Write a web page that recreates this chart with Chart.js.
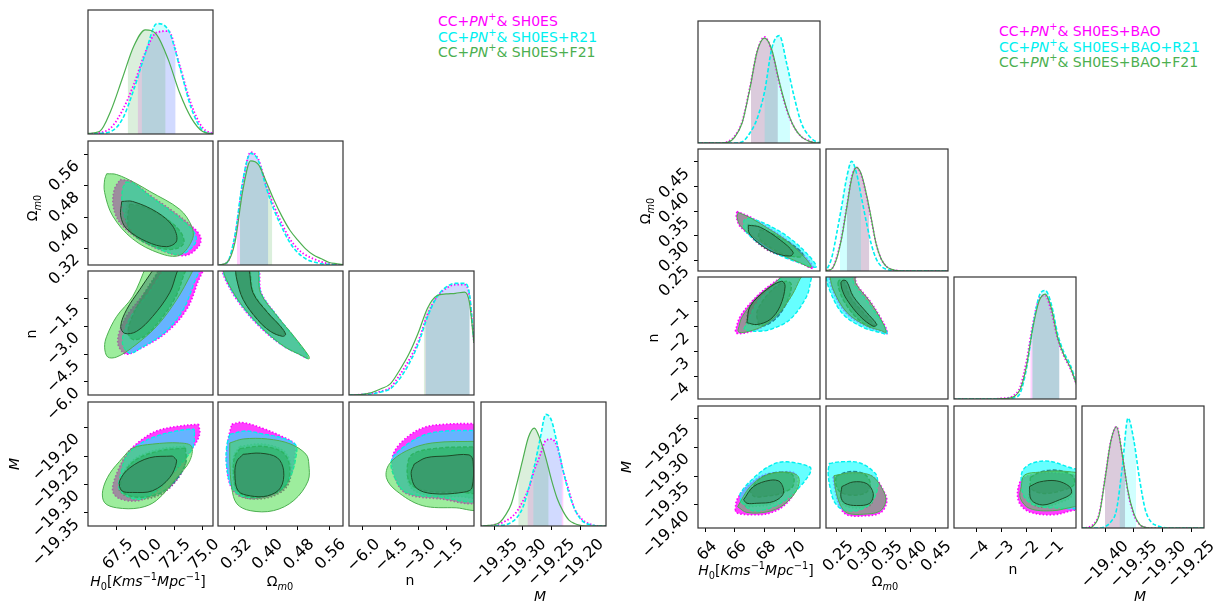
<!DOCTYPE html>
<html>
<head>
<meta charset="utf-8">
<script src="https://cdn.jsdelivr.net/npm/chart.js@4.4.1/dist/chart.umd.min.js"></script>
<style>
  body { margin: 0; background: #fff; width: 1222px; height: 603px; overflow: hidden; position: relative; font-family: 'DejaVu Sans', sans-serif; }
  canvas { position: absolute; }
  .lab { position: absolute; font-size: 14px; white-space: nowrap; line-height: 1; transform: translate(-50%, -50%); z-index: 5; }
  .rot { transform: translate(-50%, -50%) rotate(-90deg); }
  .leg { position: absolute; font-size: 14px; white-space: nowrap; line-height: 15.5px; z-index: 5; }
  sup, sub { font-size: 70%; line-height: 0; }
</style>
</head>
<body>
<div class="leg" style="left:438px;top:14px">
  <div style="color:#ff00ff">CC+<i>PN</i><sup>+</sup>&amp; SH0ES</div>
  <div style="color:#00f0f0">CC+<i>PN</i><sup>+</sup>&amp; SH0ES+R21</div>
  <div style="color:#4caf50">CC+<i>PN</i><sup>+</sup>&amp; SH0ES+F21</div>
</div>
<div class="leg" style="left:999px;top:24px">
  <div style="color:#ff00ff">CC+<i>PN</i><sup>+</sup>&amp; SH0ES+BAO</div>
  <div style="color:#00f0f0">CC+<i>PN</i><sup>+</sup>&amp; SH0ES+BAO+R21</div>
  <div style="color:#4caf50">CC+<i>PN</i><sup>+</sup>&amp; SH0ES+BAO+F21</div>
</div>

<div class="lab" style="left:148px;top:581px"><i>H</i><sub>0</sub>[<i>Kms</i><sup>−1</sup><i>Mpc</i><sup>−1</sup>]</div>
<div class="lab" style="left:280px;top:581px">Ω<sub><i>m</i>0</sub></div>
<div class="lab" style="left:410px;top:580px">n</div>
<div class="lab" style="left:540px;top:596px"><i>M</i></div>
<div class="lab rot" style="left:32px;top:208px">Ω<sub><i>m</i>0</sub></div>
<div class="lab rot" style="left:31px;top:334px">n</div>
<div class="lab rot" style="left:14px;top:464px"><i>M</i></div>

<div class="lab" style="left:756px;top:570px"><i>H</i><sub>0</sub>[<i>Kms</i><sup>−1</sup><i>Mpc</i><sup>−1</sup>]</div>
<div class="lab" style="left:885px;top:581px">Ω<sub><i>m</i>0</sub></div>
<div class="lab" style="left:1013px;top:569px">n</div>
<div class="lab" style="left:1140px;top:596px"><i>M</i></div>
<div class="lab rot" style="left:645px;top:211px">Ω<sub><i>m</i>0</sub></div>
<div class="lab rot" style="left:653px;top:338px">n</div>
<div class="lab rot" style="left:626px;top:467px"><i>M</i></div>

<script>
// ---------- left triangle: CC+PN+ & SH0ES (+R21, +F21) ----------
const L_h0Ticks = [67.5, 70, 72.5, 75];
const L_h0Labels = ['67.5', '70.0', '72.5', '75.0'];
const L_omTicks = [0.32, 0.40, 0.48, 0.56];
const L_omLabels = ['0.32', '0.40', '0.48', '0.56'];
const L_nTicks = [-6, -4.5, -3, -1.5];
const L_nLabels = ['−6.0', '−4.5', '−3.0', '−1.5'];
const L_mTicks = [-19.35, -19.30, -19.25, -19.20];
const L_mLabels = ['−19.35', '−19.30', '−19.25', '−19.20'];

// marginals (magenta, cyan, green)
const L_h0Grid = [65, 66, 67, 68, 69, 70, 71, 72, 73, 74, 75, 76];
const L_h0Mag = [0, 0.01, 0.05, 0.19, 0.40, 0.66, 0.82, 0.83, 0.55, 0.24, 0.05, 0];
const L_h0Cyan = [0, 0.005, 0.02, 0.12, 0.36, 0.65, 0.89, 0.84, 0.54, 0.21, 0.03, 0];
const L_h0Green = [0.005, 0.02, 0.19, 0.45, 0.71, 0.84, 0.80, 0.60, 0.33, 0.13, 0.02, 0];
const L_h0Bands = [[69.33, 72.64], [69.68, 72.64], [68.46, 71.77]];

const L_omGrid = [0.28, 0.30, 0.32, 0.34, 0.36, 0.38, 0.40, 0.42, 0.44, 0.46, 0.48, 0.50, 0.52, 0.54, 0.56, 0.58, 0.60];
const L_omMag = [0, 0.02, 0.22, 0.66, 0.91, 0.85, 0.64, 0.47, 0.33, 0.21, 0.13, 0.08, 0.05, 0.025, 0.01, 0.003, 0];
const L_omCyan = [0, 0.02, 0.24, 0.68, 0.90, 0.84, 0.62, 0.44, 0.30, 0.18, 0.10, 0.05, 0.025, 0.01, 0.005, 0, 0];
const L_omGreen = [0, 0.02, 0.18, 0.60, 0.84, 0.81, 0.67, 0.52, 0.39, 0.28, 0.20, 0.13, 0.08, 0.05, 0.02, 0.01, 0];
const L_omBands = [[0.325, 0.405], [0.333, 0.405], [0.333, 0.415]];

const L_nGrid = [-7, -6.5, -6, -5.5, -5, -4.5, -4, -3.5, -3, -2.5, -2, -1.5, -1, -0.5, -0.25, 0];
const L_nMag = [0, 0, 0.005, 0.015, 0.03, 0.06, 0.16, 0.28, 0.43, 0.65, 0.79, 0.86, 0.89, 0.89, 0.80, 0.42];
const L_nCyan = [0, 0, 0.003, 0.01, 0.025, 0.05, 0.13, 0.25, 0.41, 0.63, 0.79, 0.87, 0.90, 0.90, 0.82, 0.43];
const L_nGreen = [0, 0, 0.005, 0.02, 0.05, 0.09, 0.20, 0.33, 0.50, 0.70, 0.80, 0.815, 0.82, 0.83, 0.75, 0.42];
const L_nBands = [[-2.62, -0.23], [-2.6, -0.23], [-2.7, -0.23]];

const L_mGrid = [-19.38, -19.37, -19.36, -19.35, -19.34, -19.33, -19.32, -19.31, -19.30, -19.29, -19.28, -19.27,
  -19.26, -19.25, -19.24, -19.23, -19.22, -19.21, -19.20, -19.19, -19.18, -19.17, -19.16, -19.15];
const L_mMag = [0, 0, 0, 0.01, 0.02, 0.04, 0.07, 0.12, 0.20, 0.30, 0.45, 0.57, 0.69, 0.70, 0.64, 0.45, 0.29, 0.14, 0.07, 0.03, 0.01, 0, 0, 0];
const L_mCyan = [0, 0, 0, 0, 0.005, 0.01, 0.03, 0.07, 0.15, 0.30, 0.48, 0.70, 0.90, 0.85, 0.66, 0.45, 0.27, 0.14, 0.06, 0.02, 0.01, 0, 0, 0];
const L_mGreen = [0, 0, 0.005, 0.01, 0.03, 0.09, 0.18, 0.35, 0.54, 0.72, 0.79, 0.70, 0.55, 0.37, 0.22, 0.12, 0.05, 0.02, 0.005, 0, 0, 0, 0, 0];
const L_mBands = [[-19.292, -19.229], [-19.282, -19.232], [-19.308, -19.255]];

// 2D contours, [x, y] in data units (95% and 68%)
const L_h0om_m95 = [[67.8, 0.496], [68.8, 0.491], [70.4, 0.456], [72.4, 0.415], [74.1, 0.375], [74.8, 0.35], [74.7, 0.327], [73.6, 0.302], [71.9, 0.309], [69.5, 0.342], [67.8, 0.385], [67.2, 0.428], [67.3, 0.471]];
const L_h0om_m68 = [[68.46, 0.438], [69.5, 0.433], [71.25, 0.408], [72.81, 0.37], [73.25, 0.337], [72.29, 0.319], [70.37, 0.332], [68.63, 0.365], [68.28, 0.4]];
const L_h0om_c95 = [[68.3, 0.49], [69.0, 0.486], [70.4, 0.453], [72.3, 0.413], [73.8, 0.376], [74.4, 0.352], [74.3, 0.33], [73.2, 0.305], [71.8, 0.311], [69.7, 0.343], [68.5, 0.38], [68.0, 0.43], [68.0, 0.47]];
const L_h0om_c68 = [[68.63, 0.433], [69.68, 0.428], [71.42, 0.403], [72.99, 0.365], [73.34, 0.332], [72.29, 0.317], [70.37, 0.329], [68.72, 0.362], [68.46, 0.395]];
const L_h0om_g95 = [[66.63, 0.511], [67.5, 0.509], [69.07, 0.488], [70.37, 0.466], [72.99, 0.42], [74.03, 0.377], [74.12, 0.344], [72.99, 0.302], [71.25, 0.307], [68.89, 0.344], [67.15, 0.403], [66.45, 0.463], [66.45, 0.496]];
const L_h0om_g68 = [[67.94, 0.44], [68.89, 0.44], [70.98, 0.413], [72.38, 0.377], [72.73, 0.339], [71.86, 0.324], [70.11, 0.337], [68.37, 0.37], [67.85, 0.403]];

const L_h0n_m95 = [[71.68, 0.32], [74.99, 0.32], [74.55, -0.64], [73.6, -2.09], [71.86, -3.32], [69.5, -4.23], [68.28, -4.5], [67.59, -3.86], [68.2, -2.62], [69.94, -1.18]];
const L_h0n_m68 = [[71.42, 0.32], [73.51, 0.32], [73.25, -0.21], [72.55, -1.39], [71.25, -2.62], [69.94, -3.48], [68.89, -3.7], [68.46, -3.32], [68.89, -2.36], [69.94, -1.18], [71.07, -0.05]];
const L_h0n_c95 = [[71.9, 0.32], [74.7, 0.32], [74.25, -0.64], [73.3, -2.09], [71.7, -3.32], [69.45, -4.23], [68.6, -4.45], [68.0, -3.86], [68.6, -2.62], [70.3, -1.18]];
const L_h0n_c68 = [[71.5, 0.32], [73.6, 0.32], [73.35, -0.21], [72.65, -1.39], [71.35, -2.62], [70.0, -3.5], [68.95, -3.72], [68.5, -3.32], [68.95, -2.36], [70.0, -1.18], [71.15, -0.05]];
const L_h0n_g95 = [[70.11, 0.32], [74.29, 0.32], [74.03, -0.11], [72.73, -1.55], [70.98, -3.0], [68.89, -4.13], [67.5, -4.66], [66.72, -4.66], [66.45, -4.13], [66.63, -3.54], [67.5, -2.46], [68.89, -1.39]];
const L_h0n_g68 = [[70.98, 0.32], [72.99, 0.32], [72.73, -0.11], [72.12, -1.18], [70.64, -2.46], [69.24, -3.27], [68.2, -3.38], [67.85, -3.0], [68.37, -2.09], [69.5, -1.02], [70.55, -0.05]];

const L_h0m_m95 = [[74.64, -19.194], [74.73, -19.212], [74.12, -19.236], [72.38, -19.281], [70.98, -19.311], [69.5, -19.328], [67.76, -19.325], [67.15, -19.311], [67.5, -19.281], [68.37, -19.247], [69.5, -19.224], [70.98, -19.206], [72.73, -19.198]];
const L_h0m_m68 = [[73.42, -19.233], [71.25, -19.238], [69.07, -19.255], [67.94, -19.285], [67.76, -19.311], [69.07, -19.325], [71.07, -19.32], [72.55, -19.297], [73.51, -19.262]];
const L_h0m_c95 = [[74.29, -19.208], [74.12, -19.236], [72.38, -19.281], [70.98, -19.311], [69.5, -19.326], [68.2, -19.318], [67.7, -19.305], [67.9, -19.278], [68.37, -19.25], [69.5, -19.229], [70.98, -19.215], [72.73, -19.206], [74.2, -19.203]];
const L_h0m_c68 = [[73.5, -19.236], [71.25, -19.241], [69.07, -19.258], [68.0, -19.287], [67.94, -19.311], [69.15, -19.322], [71.07, -19.317], [72.55, -19.295], [73.51, -19.263]];
const L_h0m_g95 = [[68.02, -19.253], [68.89, -19.236], [70.64, -19.229], [72.99, -19.227], [74.03, -19.233], [73.86, -19.259], [72.73, -19.288], [70.98, -19.328], [69.5, -19.341], [67.5, -19.341], [66.45, -19.332], [66.28, -19.311], [66.89, -19.281]];
const L_h0m_g68 = [[72.38, -19.25], [70.37, -19.253], [68.63, -19.271], [67.76, -19.294], [67.94, -19.311], [68.89, -19.314], [70.64, -19.311], [72.12, -19.288], [72.73, -19.259]];

const L_omn_m95 = [[0.283, 0.32], [0.374, 0.32], [0.387, -1.18], [0.428, -2.46], [0.468, -3.54], [0.503, -4.55], [0.502, -4.7], [0.488, -4.55], [0.44, -4.02], [0.382, -3.0], [0.33, -1.71], [0.296, -0.48]];
const L_omn_m68 = [[0.322, 0.32], [0.353, 0.32], [0.368, -1.18], [0.404, -2.25], [0.436, -3.0], [0.447, -3.4], [0.44, -3.5], [0.41, -3.25], [0.378, -2.62], [0.343, -1.55], [0.327, -0.48]];
const L_omn_c95 = [[0.285, 0.32], [0.373, 0.32], [0.386, -1.18], [0.428, -2.46], [0.469, -3.54], [0.505, -4.58], [0.504, -4.73], [0.49, -4.58], [0.442, -4.04], [0.384, -3.0], [0.332, -1.71], [0.298, -0.48]];
const L_omn_c68 = [[0.321, 0.32], [0.352, 0.32], [0.367, -1.18], [0.403, -2.25], [0.435, -3.0], [0.446, -3.38], [0.439, -3.48], [0.409, -3.24], [0.377, -2.62], [0.342, -1.55], [0.326, -0.48]];
const L_omn_g95 = [[0.286, 0.32], [0.372, 0.32], [0.385, -1.18], [0.428, -2.46], [0.47, -3.54], [0.508, -4.61], [0.508, -4.77], [0.493, -4.61], [0.444, -4.07], [0.385, -3.0], [0.333, -1.71], [0.299, -0.48]];
const L_omn_g68 = [[0.32, 0.32], [0.351, 0.32], [0.366, -1.18], [0.403, -2.25], [0.436, -3.0], [0.449, -3.43], [0.441, -3.54], [0.41, -3.27], [0.377, -2.62], [0.341, -1.55], [0.325, -0.48]];

const L_omm_m95 = [[0.312, -19.194], [0.338, -19.191], [0.39, -19.201], [0.444, -19.217], [0.472, -19.229], [0.472, -19.25], [0.462, -19.285], [0.436, -19.311], [0.39, -19.323], [0.341, -19.323], [0.312, -19.307], [0.299, -19.267], [0.302, -19.224]];
const L_omm_m68 = [[0.333, -19.233], [0.39, -19.229], [0.444, -19.241], [0.462, -19.267], [0.454, -19.302], [0.415, -19.321], [0.359, -19.325], [0.325, -19.314], [0.315, -19.285], [0.317, -19.25]];
const L_omm_c95 = [[0.307, -19.212], [0.346, -19.206], [0.39, -19.211], [0.444, -19.219], [0.475, -19.231], [0.475, -19.252], [0.462, -19.285], [0.436, -19.309], [0.39, -19.321], [0.341, -19.321], [0.312, -19.305], [0.299, -19.267], [0.299, -19.233]];
const L_omm_c68 = [[0.333, -19.237], [0.39, -19.233], [0.442, -19.244], [0.459, -19.268], [0.451, -19.3], [0.413, -19.318], [0.36, -19.322], [0.327, -19.311], [0.317, -19.284], [0.319, -19.252]];
const L_omm_g95 = [[0.307, -19.227], [0.341, -19.22], [0.403, -19.22], [0.462, -19.229], [0.501, -19.247], [0.508, -19.264], [0.506, -19.294], [0.47, -19.328], [0.418, -19.346], [0.359, -19.346], [0.325, -19.334], [0.312, -19.306], [0.307, -19.259]];
const L_omm_g68 = [[0.341, -19.247], [0.385, -19.245], [0.428, -19.253], [0.444, -19.276], [0.436, -19.306], [0.403, -19.32], [0.359, -19.32], [0.328, -19.311], [0.32, -19.281], [0.325, -19.259]];

const L_nm_m95 = [[0.27, -19.193], [-1.5, -19.194], [-2.79, -19.201], [-3.91, -19.226], [-4.39, -19.253], [-4.23, -19.29], [-3.64, -19.316], [-1.88, -19.325], [0.27, -19.327]];
const L_nm_m68 = [[0.27, -19.236], [-1.88, -19.238], [-3.32, -19.25], [-3.59, -19.276], [-3.38, -19.306], [-2.41, -19.32], [-0.8, -19.321], [0.27, -19.32]];
const L_nm_c95 = [[0.27, -19.205], [-1.5, -19.206], [-2.68, -19.213], [-3.86, -19.236], [-4.45, -19.259], [-4.23, -19.29], [-3.64, -19.314], [-1.88, -19.322], [0.27, -19.324]];
const L_nm_c68 = [[0.27, -19.234], [-1.88, -19.236], [-3.32, -19.247], [-3.59, -19.272], [-3.38, -19.3], [-2.41, -19.312], [-0.8, -19.313], [0.27, -19.312]];
const L_nm_g95 = [[0.27, -19.224], [-2.25, -19.227], [-3.64, -19.241], [-4.55, -19.264], [-4.71, -19.288], [-4.18, -19.311], [-2.79, -19.337], [-0.96, -19.341], [0.27, -19.341]];
const L_nm_g68 = [[-3.21, -19.264], [-2.57, -19.253], [-1.5, -19.25], [-0.27, -19.248], [-0.05, -19.259], [-0.11, -19.306], [-0.64, -19.314], [-2.25, -19.316], [-3.11, -19.306], [-3.38, -19.281]];

// ---------- right triangle: + BAO ----------
const R_h0Ticks = [64, 66, 68, 70];
const R_h0Labels = ['64', '66', '68', '70'];
const R_omTicks = [0.25, 0.30, 0.35, 0.40, 0.45];
const R_omLabels = ['0.25', '0.30', '0.35', '0.40', '0.45'];
const R_nTicks = [-4, -3, -2, -1];
const R_nLabels = ['−4', '−3', '−2', '−1'];
const R_mTicks = [-19.40, -19.35, -19.30, -19.25];
const R_mLabels = ['−19.40', '−19.35', '−19.30', '−19.25'];

const R_h0Grid = [63.5, 64, 64.5, 65, 65.5, 66, 66.5, 67, 67.5, 68, 68.5, 69, 69.5, 70, 70.5, 71, 71.5, 72];
const R_h0Mag = [0, 0, 0, 0, 0.01, 0.06, 0.18, 0.45, 0.75, 0.87, 0.75, 0.49, 0.27, 0.13, 0.05, 0.02, 0, 0];
const R_h0Cyan = [0, 0, 0, 0, 0, 0, 0.01, 0.08, 0.2, 0.42, 0.78, 0.88, 0.65, 0.38, 0.16, 0.06, 0.01, 0];
const R_h0Green = [0, 0, 0, 0, 0.005, 0.05, 0.17, 0.44, 0.75, 0.86, 0.76, 0.5, 0.28, 0.13, 0.05, 0.015, 0, 0];
const R_h0Bands = [[67.08, 68.9], [67.99, 69.72], [67.08, 68.9]];

const R_omGrid = [0.22, 0.23, 0.24, 0.25, 0.26, 0.27, 0.28, 0.29, 0.30, 0.31, 0.32, 0.33, 0.34, 0.35,
  0.36, 0.37, 0.38, 0.39, 0.40, 0.41, 0.42, 0.43, 0.44, 0.45, 0.46, 0.47, 0.48];
const R_omMag = [0, 0.005, 0.02, 0.12, 0.29, 0.53, 0.77, 0.85, 0.78, 0.62, 0.42, 0.22, 0.10, 0.04, 0.015, 0.005, 0, 0, 0, 0, 0, 0, 0, 0, 0, 0, 0];
const R_omCyan = [0, 0.02, 0.12, 0.32, 0.54, 0.77, 0.90, 0.80, 0.60, 0.40, 0.22, 0.10, 0.04, 0.015, 0.005, 0, 0, 0, 0, 0, 0, 0, 0, 0, 0, 0, 0];
const R_omGreen = [0, 0.005, 0.02, 0.11, 0.28, 0.52, 0.76, 0.85, 0.79, 0.63, 0.43, 0.22, 0.10, 0.04, 0.015, 0.005, 0, 0, 0, 0, 0, 0, 0, 0, 0, 0, 0];
const R_omBands = [[0.270, 0.316], [0.256, 0.299], [0.270, 0.316]];

const R_nGrid = [-5, -4.75, -4.5, -4.25, -4, -3.75, -3.5, -3.25, -3, -2.75, -2.5, -2.25, -2, -1.75, -1.5, -1.25, -1, -0.75, -0.5, -0.25, 0];
const R_nMag = [0, 0, 0, 0, 0, 0, 0, 0, 0.005, 0.01, 0.03, 0.10, 0.31, 0.61, 0.82, 0.85, 0.71, 0.49, 0.35, 0.25, 0.12];
const R_nCyan = [0, 0, 0, 0, 0, 0, 0, 0, 0, 0.003, 0.01, 0.05, 0.25, 0.58, 0.84, 0.89, 0.77, 0.53, 0.38, 0.28, 0.13];
const R_nGreen = [0, 0, 0, 0, 0, 0, 0, 0, 0.003, 0.005, 0.02, 0.08, 0.27, 0.58, 0.80, 0.86, 0.74, 0.50, 0.36, 0.26, 0.12];
const R_nBands = [[-1.85, -0.68], [-1.77, -0.68], [-1.77, -0.68]];

const R_mGrid = [-19.44, -19.43, -19.42, -19.41, -19.40, -19.39, -19.38, -19.37, -19.36, -19.35, -19.34, -19.33,
  -19.32, -19.31, -19.30, -19.29, -19.28, -19.27, -19.26, -19.25, -19.24, -19.23, -19.22];
const R_mMag = [0, 0.005, 0.03, 0.12, 0.41, 0.71, 0.83, 0.60, 0.29, 0.11, 0.03, 0.005, 0, 0, 0, 0, 0, 0, 0, 0, 0, 0, 0];
const R_mCyan = [0, 0, 0, 0, 0.01, 0.05, 0.15, 0.50, 0.90, 0.72, 0.40, 0.15, 0.05, 0.02, 0.005, 0, 0, 0, 0, 0, 0, 0, 0];
const R_mGreen = [0, 0, 0.02, 0.11, 0.40, 0.71, 0.83, 0.60, 0.30, 0.12, 0.03, 0.005, 0, 0, 0, 0, 0, 0, 0, 0, 0, 0, 0];
const R_mBands = [[-19.40, -19.365], [-19.375, -19.346], [-19.40, -19.365]];

const R_h0om_m95 = [[66.13, 0.349], [67.03, 0.338], [68.15, 0.318], [69.5, 0.291], [70.85, 0.254], [71.29, 0.233], [70.4, 0.244], [68.83, 0.264], [67.48, 0.291], [66.36, 0.318], [66.09, 0.338]];
const R_h0om_m68 = [[66.85, 0.323], [67.7, 0.319], [69.05, 0.293], [69.95, 0.267], [69.75, 0.258], [68.55, 0.265], [67.45, 0.287], [66.9, 0.306]];
const R_h0om_c95 = [[67.0, 0.336], [68.2, 0.322], [69.6, 0.297], [70.9, 0.262], [71.5, 0.236], [70.7, 0.241], [69.0, 0.26], [67.6, 0.285], [66.7, 0.31], [66.6, 0.33]];
const R_h0om_c68 = [[67.7, 0.312], [68.6, 0.303], [69.8, 0.283], [70.6, 0.262], [70.4, 0.256], [69.3, 0.262], [68.2, 0.28], [67.6, 0.297]];
const R_h0om_g95 = [[66.22, 0.347], [67.05, 0.336], [68.15, 0.316], [69.45, 0.29], [70.75, 0.254], [71.15, 0.235], [70.35, 0.245], [68.83, 0.266], [67.5, 0.292], [66.42, 0.318], [66.15, 0.337]];
const R_h0om_g68 = [[66.9, 0.321], [67.7, 0.317], [69.05, 0.291], [69.93, 0.266], [69.72, 0.258], [68.58, 0.266], [67.5, 0.287], [66.96, 0.305]];

const R_h0n_m95 = [[66.02, -2.19], [66.36, -1.59], [67.48, -0.79], [68.6, -0.25], [69.6, 0.1], [70.6, 0.1], [70.4, -0.04], [69.93, -0.64], [69.05, -1.44], [67.9, -2.0], [66.83, -2.24], [66.16, -2.28]];
const R_h0n_m68 = [[66.75, -1.88], [66.98, -1.2], [68.1, -0.52], [69.14, -0.17], [69.4, -0.38], [69.05, -1.2], [68.35, -1.75], [67.42, -1.95]];
const R_h0n_c95 = [[66.6, -2.1], [66.83, -1.84], [67.5, -1.04], [68.6, -0.4], [69.6, 0.1], [71.3, 0.1], [71.18, -0.04], [70.85, -0.79], [69.72, -1.72], [68.38, -2.12], [67.5, -2.19], [66.8, -2.15]];
const R_h0n_c68 = [[67.6, -1.95], [67.5, -1.4], [68.4, -0.6], [69.4, -0.2], [69.8, -0.3], [69.6, -0.9], [68.9, -1.6], [68.1, -1.95]];
const R_h0n_g95 = [[66.2, -2.15], [66.5, -1.6], [67.55, -0.82], [68.6, -0.3], [69.5, 0.1], [70.6, 0.1], [70.4, -0.1], [69.9, -0.7], [69.0, -1.45], [67.9, -1.98], [66.9, -2.2], [66.3, -2.24]];
const R_h0n_g68 = [[66.81, -1.85], [67.03, -1.19], [68.15, -0.52], [69.16, -0.19], [69.39, -0.39], [69.05, -1.19], [68.38, -1.72], [67.48, -1.92]];

const R_h0m_m95 = [[66.02, -19.409], [66.13, -19.391], [66.81, -19.368], [67.93, -19.348], [69.05, -19.343], [70.06, -19.345], [70.18, -19.368], [69.5, -19.397], [68.38, -19.414], [67.03, -19.417], [66.13, -19.414]];
const R_h0m_m68 = [[66.5, -19.395], [67.1, -19.372], [68.3, -19.36], [69.0, -19.362], [69.2, -19.382], [68.5, -19.398], [67.4, -19.402], [66.7, -19.402]];
const R_h0m_c95 = [[66.4, -19.395], [66.36, -19.38], [67.48, -19.348], [68.6, -19.329], [69.5, -19.325], [71.07, -19.334], [71.07, -19.345], [70.4, -19.368], [69.5, -19.39], [68.4, -19.405], [67.2, -19.41]];
const R_h0m_c68 = [[67.0, -19.375], [67.8, -19.352], [69.0, -19.343], [69.9, -19.348], [69.9, -19.368], [69.1, -19.38], [68.0, -19.385], [67.3, -19.385]];
const R_h0m_g95 = [[66.18, -19.403], [67.03, -19.368], [68.15, -19.348], [69.5, -19.343], [70.29, -19.351], [70.18, -19.374], [69.27, -19.4], [68.15, -19.412], [66.81, -19.413]];
const R_h0m_g68 = [[66.58, -19.391], [67.25, -19.368], [68.38, -19.357], [69.05, -19.36], [69.27, -19.38], [68.6, -19.394], [67.48, -19.397], [66.81, -19.397]];

const R_omn_m95 = [[0.232, 0.2], [0.24, -0.5], [0.268, -1.45], [0.309, -1.99], [0.342, -2.2], [0.353, -2.28], [0.346, -1.9], [0.318, -1.0], [0.29, -0.3], [0.284, 0.2]];
const R_omn_m68 = [[0.258, -0.26], [0.262, -0.16], [0.27, -0.21], [0.284, -0.8], [0.312, -1.46], [0.332, -1.93], [0.325, -2.0], [0.297, -1.6], [0.27, -0.93], [0.26, -0.51]];
const R_omn_c95 = [[0.226, 0.2], [0.234, -0.5], [0.262, -1.5], [0.305, -2.05], [0.34, -2.25], [0.352, -2.3], [0.345, -1.95], [0.312, -1.0], [0.285, -0.3], [0.278, 0.2]];
const R_omn_c68 = [[0.252, -0.25], [0.255, -0.15], [0.264, -0.2], [0.278, -0.85], [0.306, -1.5], [0.326, -1.95], [0.318, -2.02], [0.29, -1.65], [0.264, -0.98], [0.254, -0.5]];
const R_omn_g95 = [[0.234, 0.2], [0.242, -0.5], [0.27, -1.43], [0.31, -1.97], [0.341, -2.17], [0.35, -2.24], [0.344, -1.88], [0.317, -1.0], [0.289, -0.3], [0.283, 0.2]];
const R_omn_g68 = [[0.258, -0.25], [0.262, -0.15], [0.27, -0.2], [0.283, -0.79], [0.311, -1.45], [0.331, -1.92], [0.324, -1.99], [0.297, -1.59], [0.27, -0.92], [0.26, -0.5]];

const R_omm_m95 = [[0.242, -19.351], [0.283, -19.345], [0.324, -19.351], [0.348, -19.38], [0.351, -19.397], [0.338, -19.414], [0.304, -19.419], [0.27, -19.417], [0.256, -19.403], [0.246, -19.374]];
const R_omm_m68 = [[0.259, -19.372], [0.283, -19.363], [0.31, -19.366], [0.324, -19.384], [0.317, -19.401], [0.29, -19.405], [0.266, -19.401], [0.257, -19.39]];
const R_omm_c95 = [[0.234, -19.328], [0.256, -19.325], [0.297, -19.327], [0.328, -19.345], [0.333, -19.36], [0.33, -19.38], [0.315, -19.4], [0.29, -19.41], [0.262, -19.408], [0.245, -19.395], [0.236, -19.37], [0.232, -19.345]];
const R_omm_c68 = [[0.248, -19.35], [0.275, -19.342], [0.305, -19.346], [0.318, -19.362], [0.31, -19.378], [0.283, -19.383], [0.258, -19.378], [0.248, -19.365]];
const R_omm_g95 = [[0.244, -19.349], [0.283, -19.344], [0.322, -19.35], [0.346, -19.378], [0.349, -19.395], [0.337, -19.411], [0.304, -19.416], [0.271, -19.414], [0.257, -19.4], [0.247, -19.372]];
const R_omm_g68 = [[0.26, -19.368], [0.283, -19.36], [0.311, -19.363], [0.324, -19.38], [0.317, -19.397], [0.29, -19.401], [0.266, -19.397], [0.258, -19.386]];

const R_nm_m95 = [[0.3, -19.35], [-0.68, -19.345], [-1.48, -19.345], [-2.15, -19.354], [-2.35, -19.374], [-2.28, -19.397], [-1.88, -19.412], [-0.95, -19.417], [-0.08, -19.409], [0.3, -19.408]];
const R_nm_m68 = [[-1.9, -19.372], [-1.5, -19.362], [-0.8, -19.36], [-0.25, -19.372], [-0.2, -19.385], [-0.68, -19.396], [-1.35, -19.404], [-1.85, -19.395]];
const R_nm_c95 = [[0.3, -19.336], [-0.08, -19.337], [-1.08, -19.324], [-1.75, -19.327], [-2.15, -19.34], [-2.21, -19.36], [-2.1, -19.385], [-1.7, -19.4], [-0.9, -19.405], [0.3, -19.4]];
const R_nm_c68 = [[-1.85, -19.352], [-1.4, -19.342], [-0.7, -19.34], [-0.15, -19.35], [-0.1, -19.365], [-0.6, -19.375], [-1.3, -19.38], [-1.8, -19.372]];
const R_nm_g95 = [[0.3, -19.345], [-0.68, -19.341], [-1.48, -19.343], [-2.08, -19.348], [-2.21, -19.368], [-2.25, -19.388], [-1.88, -19.406], [-0.95, -19.41], [-0.08, -19.403], [0.3, -19.402]];
const R_nm_g68 = [[-1.88, -19.368], [-1.48, -19.36], [-0.81, -19.358], [-0.28, -19.368], [-0.21, -19.38], [-0.68, -19.391], [-1.35, -19.4], [-1.81, -19.391]];

// ---------- styles ----------
const SERIES = [
  { line: '#ff00ff', line68: '#9a3a9a', fill95: 'rgba(255,0,255,0.75)', fill68: 'rgba(130,70,130,0.5)', dash: [1.5, 2], width: 1.6, band: 'rgba(255,0,255,0.18)' },
  { line: '#00f0f0', line68: '#1e8a8a', fill95: 'rgba(0,255,255,0.6)', fill68: 'rgba(20,120,125,0.45)', dash: [4, 2], width: 1.4, band: 'rgba(0,255,255,0.18)' },
  { line: '#4caf50', line68: '#1c4a26', fill95: 'rgba(60,220,60,0.5)', fill68: 'rgba(60,130,100,0.5)', dash: [], width: 1, band: 'rgba(76,175,80,0.2)' }
];

const PAD_L = 70, PAD_T = 8, PAD_R = 30, PAD_B = 70;

const PLOTS = [
  {
    cols: [88, 218, 349, 481], rows: [10, 141, 271, 402], w: 125, h: 124,
    params: [
      { min: 65.0, max: 75.9, ticks: L_h0Ticks, labels: L_h0Labels, off: 14 },
      { min: 0.277, max: 0.595, ticks: L_omTicks, labels: L_omLabels, off: 14 },
      { min: -6.72, max: 0, ticks: L_nTicks, labels: L_nLabels, off: 15 },
      { min: -19.373, max: -19.155, ticks: L_mTicks, labels: L_mLabels, off: 21 }
    ],
    marg: [
      [L_h0Grid, [L_h0Mag, L_h0Cyan, L_h0Green], L_h0Bands],
      [L_omGrid, [L_omMag, L_omCyan, L_omGreen], L_omBands],
      [L_nGrid, [L_nMag, L_nCyan, L_nGreen], L_nBands],
      [L_mGrid, [L_mMag, L_mCyan, L_mGreen], L_mBands]
    ],
    pairs: {
      '1,0': [L_h0om_m95, L_h0om_m68, L_h0om_c95, L_h0om_c68, L_h0om_g95, L_h0om_g68],
      '2,0': [L_h0n_m95, L_h0n_m68, L_h0n_c95, L_h0n_c68, L_h0n_g95, L_h0n_g68],
      '3,0': [L_h0m_m95, L_h0m_m68, L_h0m_c95, L_h0m_c68, L_h0m_g95, L_h0m_g68],
      '2,1': [L_omn_m95, L_omn_m68, L_omn_c95, L_omn_c68, L_omn_g95, L_omn_g68],
      '3,1': [L_omm_m95, L_omm_m68, L_omm_c95, L_omm_c68, L_omm_g95, L_omm_g68],
      '3,2': [L_nm_m95, L_nm_m68, L_nm_c95, L_nm_c68, L_nm_g95, L_nm_g68]
    }
  },
  {
    cols: [698, 826, 954, 1082], rows: [21, 149, 277, 406], w: 122, h: 122,
    params: [
      { min: 63.5, max: 71.75, ticks: R_h0Ticks, labels: R_h0Labels, off: 9 },
      { min: 0.2276, max: 0.4765, ticks: R_omTicks, labels: R_omLabels, off: 14 },
      { min: -4.9, max: -0.02, ticks: R_nTicks, labels: R_nLabels, off: 10 },
      { min: -19.440, max: -19.228, ticks: R_mTicks, labels: R_mLabels, off: 21 }
    ],
    marg: [
      [R_h0Grid, [R_h0Mag, R_h0Cyan, R_h0Green], R_h0Bands],
      [R_omGrid, [R_omMag, R_omCyan, R_omGreen], R_omBands],
      [R_nGrid, [R_nMag, R_nCyan, R_nGreen], R_nBands],
      [R_mGrid, [R_mMag, R_mCyan, R_mGreen], R_mBands]
    ],
    pairs: {
      '1,0': [R_h0om_m95, R_h0om_m68, R_h0om_c95, R_h0om_c68, R_h0om_g95, R_h0om_g68],
      '2,0': [R_h0n_m95, R_h0n_m68, R_h0n_c95, R_h0n_c68, R_h0n_g95, R_h0n_g68],
      '3,0': [R_h0m_m95, R_h0m_m68, R_h0m_c95, R_h0m_c68, R_h0m_g95, R_h0m_g68],
      '2,1': [R_omn_m95, R_omn_m68, R_omn_c95, R_omn_c68, R_omn_g95, R_omn_g68],
      '3,1': [R_omm_m95, R_omm_m68, R_omm_c95, R_omm_c68, R_omm_g95, R_omm_g68],
      '3,2': [R_nm_m95, R_nm_m68, R_nm_c95, R_nm_c68, R_nm_g95, R_nm_g68]
    }
  }
];

// black frame around each panel
const framePlugin = {
  id: 'frame',
  afterDraw(chart) {
    const a = chart.chartArea, ctx = chart.ctx;
    ctx.save();
    ctx.strokeStyle = '#333';
    ctx.lineWidth = 1.2;
    ctx.strokeRect(a.left, a.top, a.right - a.left, a.bottom - a.top);
    ctx.restore();
  }
};

function closedPts(a) {
  return a.concat([a[0]]).map(p => ({ x: p[0], y: p[1] }));
}

function curvePts(grid, ys) {
  return grid.map((g, i) => ({ x: g, y: ys[i] }));
}

// the 68% band: curve points between lo and hi, with the curve height at the two edges
function bandPts(grid, ys, lo, hi) {
  const at = v => {
    for (let i = 1; i < grid.length; i++) {
      if (grid[i] >= v) {
        const t = (v - grid[i - 1]) / (grid[i] - grid[i - 1]);
        return ys[i - 1] + t * (ys[i] - ys[i - 1]);
      }
    }
    return 0;
  };
  const out = [{ x: lo, y: at(lo) }];
  grid.forEach((g, i) => { if (g > lo && g < hi) out.push({ x: g, y: ys[i] }); });
  out.push({ x: hi, y: at(hi) });
  return out;
}

function makeAxis(p, show, isX) {
  return {
    type: 'linear',
    min: p.min,
    max: p.max,
    afterBuildTicks: s => { s.ticks = p.ticks.map(v => ({ value: v })); },
    afterFit: s => {
      if (isX) { s.height = PAD_B; s.paddingLeft = 0; s.paddingRight = 0; }
      else { s.width = PAD_L; s.paddingTop = 0; s.paddingBottom = 0; }
    },
    ticks: {
      display: show,
      autoSkip: false,
      minRotation: 45,
      maxRotation: 45,
      padding: isX ? 5 : 7,
      labelOffset: isX ? p.off : 9,
      color: '#000',
      font: { family: 'DejaVu Sans', size: 16 },
      callback: v => { const k = p.ticks.indexOf(v); return k < 0 ? '' : p.labels[k]; }
    },
    grid: { display: show, drawOnChartArea: false, drawTicks: true, tickLength: 4, color: '#000', lineWidth: 1 },
    border: { display: false }
  };
}

function makePanel(left, top, w, h, datasets, xAxis, yAxis) {
  const cv = document.createElement('canvas');
  cv.width = PAD_L + w + PAD_R;
  cv.height = PAD_T + h + PAD_B;
  cv.style.left = (left - PAD_L) + 'px';
  cv.style.top = (top - PAD_T) + 'px';
  document.body.appendChild(cv);
  // Chart.js paints the first dataset last, so hand them over back to front
  return new Chart(cv.getContext('2d'), {
    type: 'scatter',
    data: { datasets: datasets.slice().reverse() },
    options: {
      responsive: false,
      animation: false,
      devicePixelRatio: 1,
      events: [],
      layout: { padding: { top: PAD_T, right: PAD_R, left: 0, bottom: 0 } },
      elements: { point: { radius: 0 } },
      plugins: { legend: { display: false }, tooltip: { enabled: false } },
      scales: { x: xAxis, y: yAxis }
    },
    plugins: [framePlugin]
  });
}

PLOTS.forEach(plot => {
  for (let i = 0; i < 4; i++) {
    for (let j = 0; j <= i; j++) {
      const xp = plot.params[j];
      const xAxis = makeAxis(xp, i === 3, true);
      const datasets = [];
      let yAxis;
      if (i === j) {
        const [grid, curves, bands] = plot.marg[i];
        curves.forEach((ys, s) => {
          datasets.push({
            data: bandPts(grid, ys, bands[s][0], bands[s][1]),
            showLine: true, fill: 'origin', backgroundColor: SERIES[s].band,
            borderWidth: 0, cubicInterpolationMode: 'monotone'
          });
        });
        curves.forEach((ys, s) => {
          datasets.push({
            data: curvePts(grid, ys),
            showLine: true, fill: false, borderColor: SERIES[s].line,
            borderWidth: SERIES[s].width + 0.2, borderDash: SERIES[s].dash, cubicInterpolationMode: 'monotone'
          });
        });
        yAxis = makeAxis({ min: 0, max: 1, ticks: [], labels: [] }, false, false);
      } else {
        const sets = plot.pairs[i + ',' + j];
        SERIES.forEach((st, s) => {
          datasets.push({
            data: closedPts(sets[2 * s]), showLine: true, fill: 'shape',
            backgroundColor: st.fill95, borderColor: st.line, borderWidth: st.width,
            borderDash: st.dash, tension: 0.35
          });
          datasets.push({
            data: closedPts(sets[2 * s + 1]), showLine: true, fill: 'shape',
            backgroundColor: st.fill68, borderColor: st.line68, borderWidth: st.width,
            borderDash: st.dash, tension: 0.35
          });
        });
        yAxis = makeAxis(plot.params[i], j === 0, false);
      }
      makePanel(plot.cols[j], plot.rows[i], plot.w, plot.h, datasets, xAxis, yAxis);
    }
  }
});
</script>
</body>
</html>
